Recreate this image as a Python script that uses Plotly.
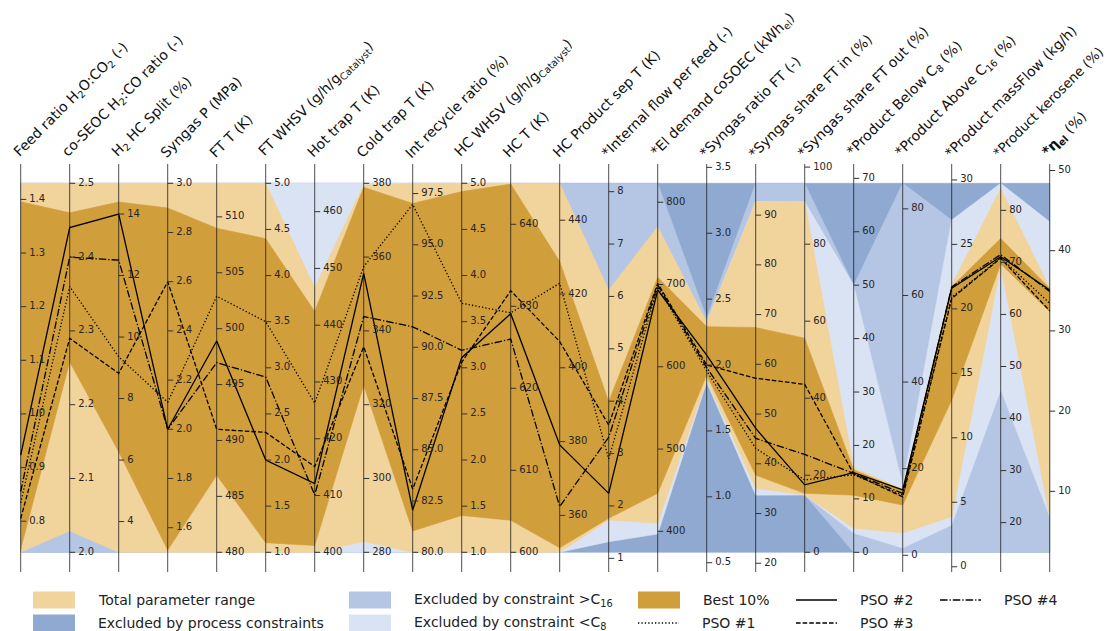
import plotly.graph_objects as go

# ---------------- data ----------------
titles = [
    "Feed ratio H<sub>2</sub>O:CO<sub>2</sub> (-)",
    "co-SEOC H<sub>2</sub>:CO ratio (-)",
    "H<sub>2</sub> HC Split (%)",
    "Syngas P (MPa)",
    "FT T (K)",
    "FT WHSV (g/h/g<sub>Catalyst</sub>)",
    "Hot trap T (K)",
    "Cold trap T (K)",
    "Int recycle ratio (%)",
    "HC WHSV (g/h/g<sub>Catalyst</sub>)",
    "HC T (K)",
    "HC Product sep T (K)",
    "*Internal flow per feed (-)",
    "*El demand coSOEC (kWh<sub>el</sub>)",
    "*Syngas ratio FT (-)",
    "*Syngas share FT in (%)",
    "*Syngas share FT out (%)",
    "*Product Below C<sub>8</sub> (%)",
    "*Product Above C<sub>16</sub> (%)",
    "*Product massFlow (kg/h)",
    "*Product kerosene (%)",
    "<b>*η<sub>el</sub></b> (%)",
]

axis_lo = [0.742, 2.0, 3.0, 1.5, 480.0, 1.0, 400.0, 280.0, 80.0, 1.0, 600.0, 350.0,
           1.115, 374.5, 0.579, 22.2, 0.0, 0.0, 0.69, 1.12, 14.3, 2.4]
axis_hi = [1.430, 2.5, 15.0, 3.0, 513.0, 5.0, 465.0, 380.0, 98.0, 5.0, 645.0, 450.0,
           8.16, 823.0, 3.379, 96.4, 95.8, 69.07, 85.9, 29.74, 85.2, 48.4]

tick_vals = [
    [0.8, 0.9, 1.0, 1.1, 1.2, 1.3, 1.4],
    [2.0, 2.1, 2.2, 2.3, 2.4, 2.5],
    [4, 6, 8, 10, 12, 14],
    [1.6, 1.8, 2.0, 2.2, 2.4, 2.6, 2.8, 3.0],
    [480, 485, 490, 495, 500, 505, 510],
    [1.0, 1.5, 2.0, 2.5, 3.0, 3.5, 4.0, 4.5, 5.0],
    [400, 410, 420, 430, 440, 450, 460],
    [280, 300, 320, 340, 360, 380],
    [80.0, 82.5, 85.0, 87.5, 90.0, 92.5, 95.0, 97.5],
    [1.0, 1.5, 2.0, 2.5, 3.0, 3.5, 4.0, 4.5, 5.0],
    [600, 610, 620, 630, 640],
    [360, 380, 400, 420, 440],
    [1, 2, 3, 4, 5, 6, 7, 8],
    [400, 500, 600, 700, 800],
    [0.5, 1.0, 1.5, 2.0, 2.5, 3.0, 3.5],
    [20, 30, 40, 50, 60, 70, 80, 90],
    [0, 20, 40, 60, 80, 100],
    [0, 10, 20, 30, 40, 50, 60, 70],
    [0, 20, 40, 60, 80],
    [0, 5, 10, 15, 20, 25, 30],
    [20, 30, 40, 50, 60, 70, 80],
    [10, 20, 30, 40, 50],
]
tick_dec = [1, 1, 0, 1, 0, 1, 0, 0, 1, 1, 0, 0, 0, 0, 1, 0, 0, 0, 0, 0, 0, 0]

# excluded by process constraints: spans the full range of every axis
proc_hi = list(axis_hi)
proc_lo = list(axis_lo)
# excluded by constraint >C16
c16_hi = [1.430, 2.5, 15.0, 3.0, 513.0, 5.0, 465.0, 380.0, 98.0, 5.0, 645.0, 450.0,
          8.16, 823.0, 2.357, 96.4, 95.8, 50.0, 85.9, 26.9, 45.5, 6.84]
c16_lo = [0.742, 2.0, 3.0, 1.5, 480.0, 1.0, 400.0, 280.0, 80.0, 1.0, 600.0, 350.0,
          1.54, 438.1, 1.871, 33.7, 14.9, 0.0, 0.69, 1.12, 14.3, 2.4]
# excluded by constraint <C8
c8_hi = [1.430, 2.5, 15.0, 3.0, 513.0, 5.0, 465.0, 380.0, 98.0, 5.0, 645.0, 391.3,
         4.02, 681.1, 2.326, 92.7, 91.0, 50.0, 16.2, 26.9, 85.2, 43.6]
c8_lo = [0.765, 2.037, 3.40, 1.5, 480.0, 1.0, 400.0, 280.0, 80.0, 1.0, 600.0, 350.0,
         1.317, 396.7, 1.871, 33.7, 14.9, 3.6, 1.68, 3.24, 45.5, 6.84]
# total parameter range
total_hi = [1.430, 2.5, 15.0, 3.0, 513.0, 5.0, 446.6, 379.5, 98.0, 5.0, 645.0, 450.0,
            6.12, 770.2, 2.326, 92.7, 91.0, 15.8, 15.3, 21.85, 84.2, 35.36]
total_lo = [0.742, 2.029, 3.0, 1.5, 480.0, 1.0, 400.0, 282.9, 80.0, 1.0, 600.0, 350.0,
            1.73, 409.7, 1.886, 35.1, 14.9, 4.5, 5.15, 3.88, 69.3, 6.84]
# best 10 %
best_hi = [1.3955, 2.460, 14.39, 2.90, 508.98, 4.40, 442.4, 378.9, 97.02, 4.91, 644.9, 428.8,
           3.99, 708.7, 2.291, 67.4, 55.6, 15.4, 15.07, 21.72, 74.6, 35.3]
best_lo = [0.748, 2.258, 6.27, 1.509, 486.9, 1.104, 401.2, 325.3, 81.04, 1.40, 603.9, 351.2,
           1.764, 446.2, 1.924, 37.7, 15.3, 10.7, 11.6, 12.93, 69.7, 32.4]

pso1 = [0.834, 2.360, 9.36, 2.11, 502.9, 3.50, 426.3, 357.4, 96.97, 3.70, 629.2, 422.9,
        2.90, 697.3, 1.955, 43.1, 18.8, 14.5, 13.9, 20.9, 70.9, 33.45]
pso2 = [0.923, 2.440, 14.0, 2.0, 498.9, 2.0, 412.1, 355.6, 82.06, 3.11, 629.1, 379.1,
        2.24, 693.3, 2.076, 47.1, 17.5, 14.9, 15.1, 21.6, 71.1, 35.1]
pso3 = [0.805, 2.290, 8.82, 2.6, 491.0, 2.30, 415.1, 335.7, 83.09, 3.06, 631.9, 407.1,
        3.545, 701.4, 2.00, 57.2, 43.6, 14.65, 13.5, 20.8, 70.8, 32.5]
pso4 = [0.855, 2.400, 12.5, 2.0, 496.96, 2.90, 410.1, 343.9, 91.0, 3.19, 626.0, 362.4,
        3.31, 699.4, 1.98, 45.1, 25.4, 14.75, 14.3, 21.7, 71.5, 34.9]

# ---------------- styling ----------------
C_TOTAL = "#F1D39C"
C_BEST = "#D19E3C"
C_PROC = "#8FA9D0"
C_C16 = "#B4C6E4"
C_C8 = "#DAE3F3"
W, H = 1110, 631
X0, DX = 20.7, 49.0          # pixel of first axis, spacing
YB, YT = 552.3, 183.3        # pixel of bottom / top of the value band
FONT = "DejaVu Sans"

n = len(titles)
X = list(range(n))


def norm(i, v):
    return (v - axis_lo[i]) / (axis_hi[i] - axis_lo[i])


def ypix(p):  # pixel row -> normalized y
    return (YB - p) / (YB - YT)


fig = go.Figure()


def band(hi, lo, color):
    xs = X + X[::-1]
    ys = [norm(i, hi[i]) for i in X] + [norm(i, lo[i]) for i in X[::-1]]
    fig.add_trace(go.Scatter(x=xs, y=ys, mode="lines", fill="toself", fillcolor=color,
                             line=dict(width=0.6, color=color), hoverinfo="skip",
                             showlegend=False))


band(proc_hi, proc_lo, C_PROC)
band(c16_hi, c16_lo, C_C16)
band(c8_hi, c8_lo, C_C8)
band(total_hi, total_lo, C_TOTAL)
band(best_hi, best_lo, C_BEST)

# axis lines
ax_x, ax_y = [], []
for i in X:
    ax_x += [i, i, None]
    ax_y += [ypix(164), ypix(572), None]
fig.add_trace(go.Scatter(x=ax_x, y=ax_y, mode="lines", line=dict(color="rgba(20,20,20,0.75)", width=1),
                         hoverinfo="skip", showlegend=False))

# PSO lines
dashes = {"pso1": "1.3px,2.1px", "pso2": "solid", "pso3": "4.6px,2px", "pso4": "7.5px,2px,1.3px,2px"}
for key, vals in [("pso1", pso1), ("pso3", pso3), ("pso4", pso4), ("pso2", pso2)]:
    fig.add_trace(go.Scatter(x=X, y=[norm(i, v) for i, v in enumerate(vals)], mode="lines",
                             line=dict(color="black", width=1.3, dash=dashes[key]),
                             hoverinfo="skip", showlegend=False))

# ticks
tk_x, tk_y, lb_x, lb_y, lb_t = [], [], [], [], []
for i in X:
    for v in tick_vals[i]:
        yn = norm(i, v)
        tk_x += [i, i + 5.5 / DX, None]
        tk_y += [yn, yn, None]
        lb_x.append(i + 8.5 / DX)
        lb_y.append(yn)
        lb_t.append(f"{v:.{tick_dec[i]}f}")
fig.add_trace(go.Scatter(x=tk_x, y=tk_y, mode="lines", line=dict(color="#333333", width=1),
                         hoverinfo="skip", showlegend=False))
fig.add_trace(go.Scatter(x=lb_x, y=lb_y, mode="text", text=lb_t, textposition="middle right",
                         textfont=dict(family=FONT, size=10, color="#262626"),
                         hoverinfo="skip", showlegend=False))

# titles (the kerosene one is a hair smaller so that it stays inside the page)
title_size = [14] * n
title_size[20] = 13.3
for i, t in enumerate(titles):
    fig.add_annotation(x=i, y=ypix(162), xref="x", yref="y", text=t, showarrow=False,
                       textangle=-45, xanchor="left", yanchor="bottom", xshift=-12,
                       borderpad=0,
                       font=dict(family=FONT, size=title_size[i], color="#111111"))

# legend (drawn manually)
def px(p):
    return p / W


def py(p):
    return 1 - p / H


legend_patches = [
    (33, 600.0, C_TOTAL, "Total parameter range"),
    (33, 623.0, C_PROC, "Excluded by process constraints"),
    (349, 600.0, C_C16, "Excluded by constraint >C<sub>16</sub>"),
    (349, 623.0, C_C8, "Excluded by constraint <C<sub>8</sub>"),
    (638, 600.0, C_BEST, "Best 10%"),
]
for x0, yc, col, txt in legend_patches:
    fig.add_shape(type="rect", xref="paper", yref="paper", x0=px(x0), x1=px(x0 + 42),
                  y0=py(yc + 8.5), y1=py(yc - 8.5), fillcolor=col, line=dict(width=0))
    fig.add_annotation(x=px(x0 + 63), y=py(yc), xref="paper", yref="paper", text=txt,
                       showarrow=False, xanchor="left", yanchor="middle",
                       font=dict(family=FONT, size=14, color="#222222"))

legend_lines = [
    (638, 623.0, dashes["pso1"], "PSO #1"),
    (796, 600.0, dashes["pso2"], "PSO #2"),
    (796, 623.0, dashes["pso3"], "PSO #3"),
    (940, 600.0, dashes["pso4"], "PSO #4"),
]
for x0, yc, dash, txt in legend_lines:
    fig.add_shape(type="line", xref="paper", yref="paper", x0=px(x0), x1=px(x0 + 41),
                  y0=py(yc), y1=py(yc), line=dict(color="black", width=1.3, dash=dash))
    fig.add_annotation(x=px(x0 + 62), y=py(yc), xref="paper", yref="paper", text=txt,
                       showarrow=False, xanchor="left", yanchor="middle",
                       font=dict(family=FONT, size=14, color="#222222"))

fig.update_layout(
    width=W, height=H, margin=dict(l=0, r=0, t=0, b=0),
    paper_bgcolor="white", plot_bgcolor="white", showlegend=False,
    xaxis=dict(range=[-X0 / DX, (W - X0) / DX], visible=False, fixedrange=True),
    yaxis=dict(range=[ypix(H), ypix(0)], visible=False, fixedrange=True),
    font=dict(family=FONT),
)

fig.write_html("out.html", post_script="document.body.style.margin='0';",
               config={"displayModeBar": False})
